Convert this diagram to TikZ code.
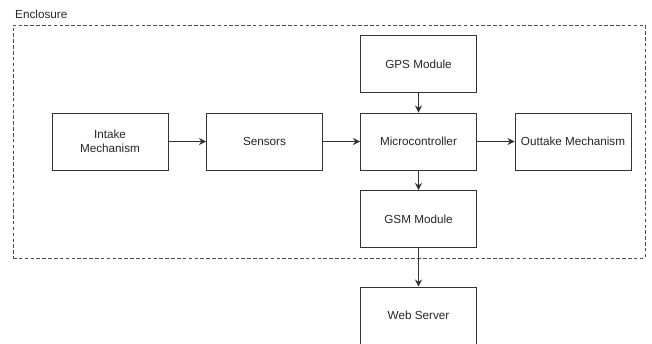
\documentclass[tikz,border=0pt]{standalone}
\usepackage{fontspec}
\setmainfont{Liberation Sans}
\usepackage{tikz}
\usetikzlibrary{arrows.meta, positioning, fit}
\definecolor{lineGray}{HTML}{333333}
\tikzset{
    block/.style={
        rectangle, draw=lineGray, line width=0.8pt, fill=white,
        minimum width=3.48cm, minimum height=1.71cm,
        align=center, font=\fontsize{10}{12}\selectfont, text=black!85
    },
    flow_arrow/.style={
        -{Stealth[length=6pt, width=6pt]}, draw=lineGray, line width=0.8pt
    },
    encl_box/.style={
        draw=black!70, dashed, dash pattern=on 3pt off 2pt, line width=0.6pt
    },
    encl_lbl/.style={
        font=\fontsize{10}{12}\selectfont, text=black!85, anchor=west, inner sep=0pt
    }
}
\begin{document}
\begin{tikzpicture}[x=0.03cm, y=-0.03cm]
    \useasboundingbox (0,0) rectangle (652,344);

    % Enclosure frame and its caption
    \node[encl_box, inner sep=0pt, fit={(13,25) (645,258)}] (encl) {};
    \node[encl_lbl] (encl_txt) at (15,14) {Enclosure};

    % Main row: intake -> sensors -> microcontroller -> outtake
    \node[block] (intake) at (110,141.5) {Intake\\Mechanism};
    \node[block] (sensors) at (264.5,141.5) {Sensors};
    \node[block] (mcu) at (418.5,141.5) {Microcontroller};
    \node[block] (outtake) at (573,141.5) {Outtake Mechanism};

    % Column: GPS above, GSM and web server below
    \node[block] (gps) at (418.5,64) {GPS Module};
    \node[block] (gsm) at (418.5,219) {GSM Module};
    \node[block] (web) at (418.5,315.5) {Web Server};

    % Connectors
    \draw[flow_arrow] (intake.east) -- (sensors.west);
    \draw[flow_arrow] (sensors.east) -- (mcu.west);
    \draw[flow_arrow] (mcu.east) -- (outtake.west);
    \draw[flow_arrow] (gps.south) -- (mcu.north);
    \draw[flow_arrow] (mcu.south) -- (gsm.north);
    \draw[flow_arrow] (gsm.south) -- (web.north);
\end{tikzpicture}
\end{document}
